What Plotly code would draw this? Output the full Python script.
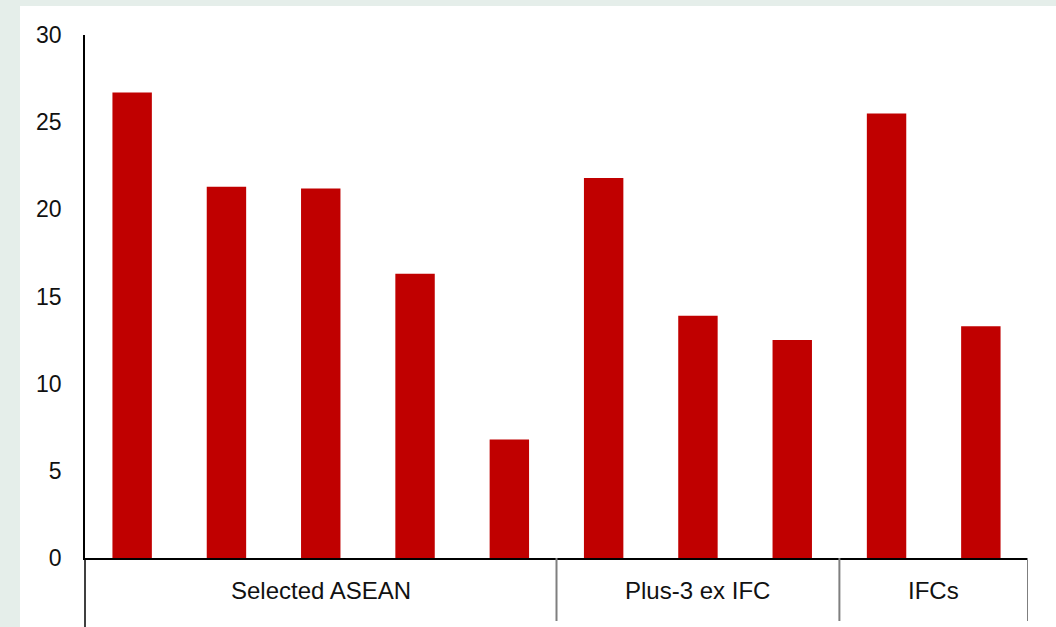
import plotly.graph_objects as go

# Bar values, grouped by economy group (left to right)
groups = ["Selected ASEAN", "Plus-3 ex IFC", "IFCs"]
group_sizes = [5, 3, 2]
values = [26.7, 21.3, 21.2, 16.3, 6.8, 21.8, 13.9, 12.5, 25.5, 13.3]
y_ticks = [0, 5, 10, 15, 20, 25, 30]

positions = list(range(len(values)))

W, H = 1056, 627
M_L, M_R, M_T, M_B = 85, 28, 35, 69
plot_h = H - M_T - M_B

BAR_RED = "#C00000"
FRAME_BG = "#E5EEEA"
FONT = "Liberation Sans, Arial, sans-serif"

fig = go.Figure(
    go.Bar(
        x=positions,
        y=values,
        marker=dict(color=BAR_RED, line=dict(width=0)),
        hoverinfo="y",
    )
)

shapes = []
# white panel over the tinted frame
shapes.append(dict(type="rect", xref="paper", yref="paper",
                   x0=(20 - M_L) / (W - M_L - M_R), x1=(W - M_L) / (W - M_L - M_R),
                   y0=-M_B / plot_h, y1=(H - 6 - M_B) / plot_h,
                   fillcolor="white", line=dict(width=0), layer="below"))
# left axis line runs down through the group-label band
shapes.append(dict(type="line", xref="paper", yref="paper",
                   x0=0, x1=0, y0=-M_B / plot_h, y1=0,
                   line=dict(color="black", width=1.5)))
# group separators
edge = -0.5
bounds = []
for n in group_sizes:
    edge += n
    bounds.append(edge)
for b in bounds:
    shapes.append(dict(type="line", xref="x", yref="paper",
                       x0=b, x1=b, y0=-63 / plot_h, y1=0,
                       line=dict(color="#7F7F7F", width=2)))

annotations = []
start = 0
for g, n in zip(groups, group_sizes):
    mid = start + (n - 1) / 2
    annotations.append(dict(x=mid, xref="x", y=-32 / plot_h, yref="paper",
                            text=g, showarrow=False, yanchor="middle",
                            font=dict(family=FONT, size=24, color="#111111")))
    start += n

fig.update_layout(
    width=W, height=H, autosize=False,
    margin=dict(l=M_L, r=M_R, t=M_T, b=M_B, pad=0),
    paper_bgcolor=FRAME_BG,
    plot_bgcolor="white",
    showlegend=False,
    bargap=0.582,
    shapes=shapes,
    annotations=annotations,
    font=dict(family=FONT, size=23, color="#111111"),
    xaxis=dict(range=[-0.5, len(values) - 0.5], showticklabels=False,
               showgrid=False, zeroline=False, ticks="",
               showline=True, linecolor="black", linewidth=1.5),
    yaxis=dict(range=[0, 30], tickvals=y_ticks, showgrid=False,
               zeroline=False, ticks="", showline=True, linecolor="black",
               linewidth=1.5, ticklabelstandoff=17,
               tickfont=dict(family=FONT, size=23, color="#111111")),
)

fig.write_html("out.html")
